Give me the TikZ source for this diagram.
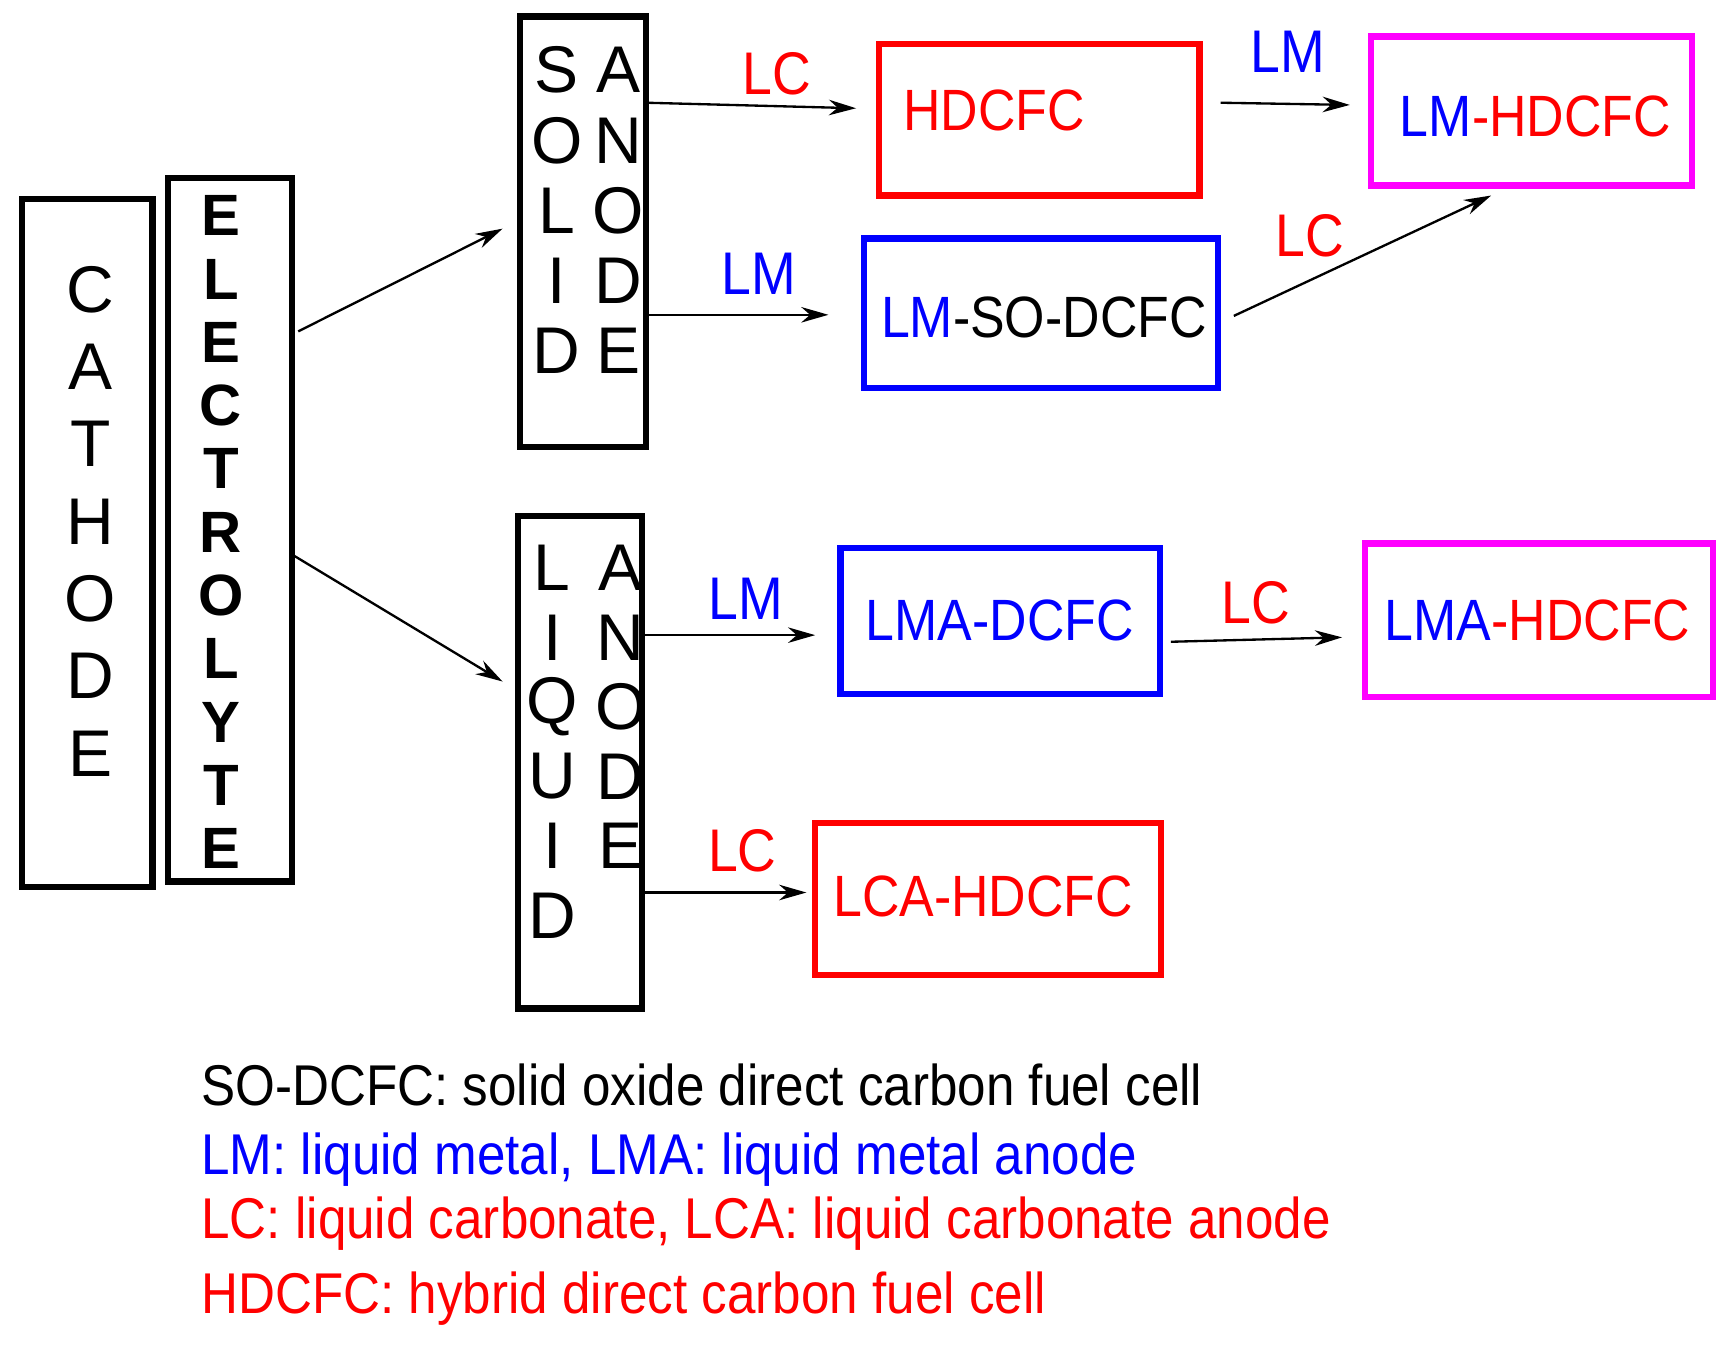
\documentclass[tikz,border=0pt]{standalone}
\usepackage{fontspec}
\setmainfont{Liberation Sans}
\newfontfamily\narrowsf[FakeStretch=0.89]{Liberation Sans}
\usetikzlibrary{arrows.meta}
\definecolor{lmblue}{RGB}{0,0,255}
\definecolor{lcred}{RGB}{255,0,0}
\definecolor{hybrid}{RGB}{255,0,255}
\tikzset{
  box/.style={line width=1.6pt},
  letter/.style={font=\fontsize{17}{17}\selectfont},
  bletter/.style={font=\fontsize{15}{15}\selectfont\bfseries},
  cell/.style={font=\narrowsf\fontsize{15}{15}\selectfont},
  tag/.style={font=\narrowsf\fontsize{15.5}{15.5}\selectfont},
  note/.style={font=\narrowsf\fontsize{14.8}{14.8}\selectfont, anchor=west},
  flow/.style={-{Stealth[length=7pt,width=4pt]}, line width=0.6pt}
}
\begin{document}
\begin{tikzpicture}[x=0.01cm, y=-0.01cm]
    \useasboundingbox (0,0) rectangle (1568,1218);

    % Cathode
    \draw[box] (20,180) rectangle (138,803);
    \foreach \c [count=\i] in {C,A,T,H,O,D,E}
        \node[letter] (cat\i) at (82,{192+70*\i}) {\c};

    % Electrolyte
    \draw[box] (152,161) rectangle (264,798);
    \foreach \c [count=\i] in {E,L,E,C,T,R,O,L,Y,T,E}
        \node[bletter] (ele\i) at (200,{138+57.3*\i}) {\c};

    % Solid anode
    \draw[box] (471,15) rectangle (585,405);
    \foreach \c [count=\i] in {S,O,L,I,D}
        \node[letter] (sol\i) at (504,{0+63.5*\i}) {\c};
    \foreach \c [count=\i] in {A,N,O,D,E}
        \node[letter] (san\i) at (560,{0+63.5*\i}) {\c};

    % Liquid anode
    \draw[box] (469,467) rectangle (581,913);
    \foreach \c [count=\i] in {L,I,Q,U,I,D}
        \node[letter] (liq\i) at (500,{451+63*\i}) {\c};
    \foreach \c [count=\i] in {A,N,O,D,E}
        \node[letter] (lan\i) at (562,{451+63*\i}) {\c};

    % Cells
    \draw[box, lcred] (796,40) rectangle (1086,177);
    \node[cell, text=lcred] (hd) at (900,100) {HDCFC};
    \draw[box, hybrid] (1241,33) rectangle (1532,168);
    \node[cell] (lmhd) at (1390,105) {\textcolor{lmblue}{LM}\textcolor{lcred}{-HDCFC}};
    \draw[box, lmblue] (782,216) rectangle (1103,351);
    \node[cell] (lmso) at (945,287) {\textcolor{lmblue}{LM}-SO-DCFC};
    \draw[box, lmblue] (761,496) rectangle (1050,628);
    \node[cell, text=lmblue] (lma) at (905,562) {LMA-DCFC};
    \draw[box, hybrid] (1236,492) rectangle (1551,631);
    \node[cell] (lmahd) at (1392,562) {\textcolor{lmblue}{LMA}\textcolor{lcred}{-HDCFC}};
    \draw[box, lcred] (738,745) rectangle (1051,883);
    \node[cell, text=lcred] (lca) at (890,812) {LCA-HDCFC};

    % Arrow ends
    \coordinate (e1) at (270,300);  \coordinate (s1) at (455,207);
    \coordinate (e2) at (266,503);  \coordinate (l1) at (455,617);
    \coordinate (sa) at (585,93);   \coordinate (hdin) at (775,98);
    \coordinate (sb) at (585,285);  \coordinate (lmsoin) at (750,285);
    \coordinate (hdout) at (1105,93); \coordinate (lmhdin) at (1222,95);
    \coordinate (lmsoout) at (1117,286); \coordinate (lmhdlow) at (1350,177);
    \coordinate (la) at (581,575);  \coordinate (lmain) at (738,575);
    \coordinate (lmaout) at (1060,581); \coordinate (lmahdin) at (1215,577);
    \coordinate (lb) at (581,808);  \coordinate (lcain) at (730,808);

    \draw[flow] (e1) -- (s1);
    \draw[flow] (e2) -- (l1);
    \draw[flow] (sa) -- (hdin);
    \draw[flow] (sb) -- (lmsoin);
    \draw[flow] (hdout) -- (lmhdin);
    \draw[flow] (lmsoout) -- (lmhdlow);
    \draw[flow] (la) -- (lmain);
    \draw[flow] (lmaout) -- (lmahdin);
    \draw[flow] (lb) -- (lcain);

    % Arrow labels
    \node[tag, text=lcred] (t1) at (703,67) {LC};
    \node[tag, text=lmblue] (t2) at (687,248) {LM};
    \node[tag, text=lmblue] (t3) at (1166,47) {LM};
    \node[tag, text=lcred] (t4) at (1186,213) {LC};
    \node[tag, text=lmblue] (t5) at (675,542) {LM};
    \node[tag, text=lcred] (t6) at (1137,546) {LC};
    \node[tag, text=lcred] (t7) at (672,770) {LC};

    % Legend
    \node[note] (n1) at (170,982) {SO-DCFC: solid oxide direct carbon fuel cell};
    \node[note, text=lmblue] (n2) at (170,1050) {LM: liquid metal, LMA: liquid metal anode};
    \node[note, text=lcred] (n3) at (170,1108) {LC: liquid carbonate, LCA: liquid carbonate anode};
    \node[note, text=lcred] (n4) at (170,1176) {HDCFC: hybrid direct carbon fuel cell};
\end{tikzpicture}
\end{document}
